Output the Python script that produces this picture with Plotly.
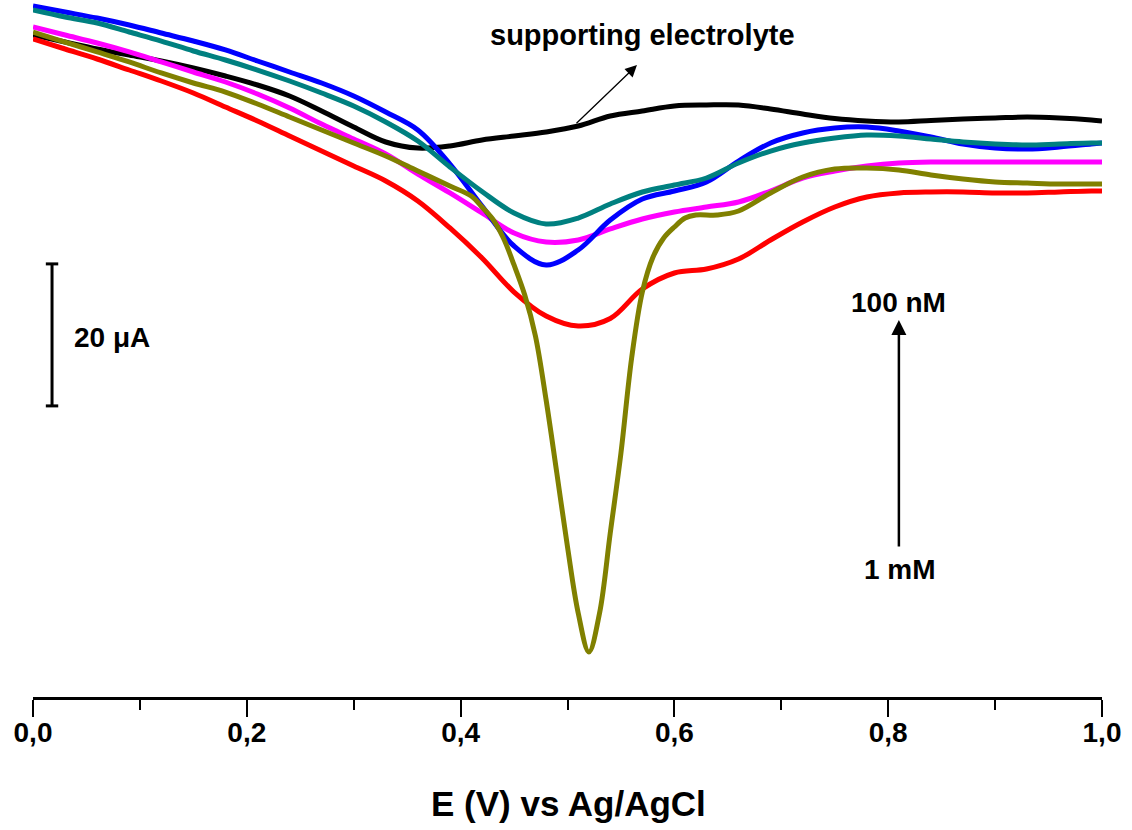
import plotly.graph_objects as go

# Differential pulse voltammograms: potential E (V vs Ag/AgCl) and current (µA)
E_grid = [0, 0.03, 0.06, 0.09, 0.12, 0.15, 0.18, 0.21, 0.24, 0.27, 0.30, 0.33, 0.36, 0.39,
          0.42, 0.45, 0.48, 0.51, 0.54, 0.57, 0.60, 0.63, 0.66, 0.69, 0.72, 0.75, 0.78, 0.81,
          0.84, 0.87, 0.90, 0.93, 0.96, 0.99, 1.0]

I_support = [93.24, 92.25, 91.27, 90.42, 89.58, 88.59, 87.46, 86.20, 84.65, 82.54, 80.28, 78.17,
             77.32, 77.61, 78.45, 79.01, 79.58, 80.42, 81.83, 82.54, 83.24, 83.38, 83.38, 82.82,
             82.11, 81.48, 81.13, 80.99, 81.20, 81.41, 81.55, 81.69, 81.55, 81.27, 81.13]

I_blue = [97.32, 96.48, 95.63, 94.65, 93.52, 92.39, 91.13, 89.58, 88.03, 86.48, 84.65, 82.39,
          79.86, 75.07, 69.15, 63.52, 60.85, 62.96, 67.18, 70.14, 71.27, 72.54, 75.49, 78.03,
          79.44, 80.14, 80.28, 79.72, 78.87, 77.89, 77.32, 77.18, 77.46, 77.89, 78.03]

I_teal = [96.76, 95.77, 94.93, 93.66, 92.39, 90.99, 89.72, 88.31, 86.76, 85.07, 83.24, 80.99,
          78.31, 74.65, 71.20, 68.17, 66.62, 67.46, 69.44, 71.13, 72.11, 73.10, 75.21, 76.90,
          78.03, 78.73, 79.15, 79.01, 78.59, 78.17, 77.89, 77.75, 77.89, 78.03, 78.03]

I_magenta = [94.37, 93.24, 92.11, 90.85, 89.44, 88.03, 86.62, 84.93, 82.96, 80.70, 78.59, 76.48,
             73.66, 70.99, 68.17, 65.35, 64.08, 64.37, 65.92, 67.32, 68.31, 69.01, 69.72, 71.27,
             73.10, 74.08, 74.79, 75.21, 75.35, 75.35, 75.35, 75.35, 75.35, 75.35, 75.35]

I_red = [92.68, 91.27, 89.86, 88.31, 86.76, 85.07, 83.10, 81.13, 79.01, 76.90, 74.79, 72.68,
         69.86, 66.06, 61.83, 57.04, 53.66, 52.25, 53.31, 57.46, 59.72, 60.28, 61.69, 64.37,
         66.90, 69.01, 70.42, 70.99, 71.13, 71.13, 70.99, 70.99, 71.13, 71.27, 71.27]

# the olive trace has a sharp peak, so it is sampled more finely around 0.5 V
E_olive = [0, 0.03, 0.06, 0.09, 0.12, 0.15, 0.18, 0.21, 0.24, 0.27, 0.30, 0.33, 0.36, 0.39,
           0.41, 0.42, 0.43, 0.44, 0.45, 0.46, 0.47, 0.48, 0.49, 0.50, 0.51, 0.52, 0.53, 0.54,
           0.55, 0.56, 0.57, 0.58, 0.59, 0.60, 0.61, 0.62, 0.64, 0.66, 0.69, 0.72, 0.75, 0.78,
           0.81, 0.84, 0.87, 0.90, 0.93, 0.96, 0.99, 1.0]
I_olive = [93.66, 92.25, 90.85, 89.44, 87.89, 86.48, 85.21, 83.52, 81.69, 79.86, 78.03, 76.20,
           74.08, 71.97, 70.56, 69.01, 67.32, 64.65, 60.85, 56.62, 50.85, 41.83, 31.55, 21.13,
           11.83, 6.34, 11.83, 23.10, 34.37, 47.75, 57.04, 61.97, 64.65, 66.20, 67.46, 67.89,
           67.89, 68.45, 70.99, 73.24, 74.37, 74.51, 74.23, 73.52, 72.96, 72.54, 72.39, 72.25,
           72.25, 72.25]

series = [
    (E_grid, I_support, "#000000", "supporting electrolyte"),
    (E_grid, I_red, "#FF0000", "red"),
    (E_grid, I_magenta, "#FF00FF", "magenta"),
    (E_grid, I_blue, "#0000FF", "blue"),
    (E_grid, I_teal, "#008080", "teal"),
    (E_olive, I_olive, "#808000", "olive"),
]

tick_vals = [0.0, 0.2, 0.4, 0.6, 0.8, 1.0]
tick_text = ["0,0", "0,2", "0,4", "0,6", "0,8", "1,0"]

# 20 µA scale bar
bar_E = 0.0178
bar_low, bar_high = 41.0, 61.0

FONT = "Liberation Sans, Arial, sans-serif"

fig = go.Figure()
for xs, ys, col, name in series:
    fig.add_trace(go.Scatter(x=xs, y=ys, mode="lines", name=name,
                             line=dict(color=col, width=5, shape="spline", smoothing=1.0)))

fig.update_layout(
    width=1132, height=830, autosize=False,
    margin=dict(l=33, r=30, t=0, b=133),
    paper_bgcolor="white", plot_bgcolor="white",
    showlegend=False,
    font=dict(family=FONT, color="black"),
)
fig.update_xaxes(
    range=[0, 1.0], showgrid=False, zeroline=False,
    showline=True, linecolor="black", linewidth=2.5,
    ticks="outside", ticklen=17, tickwidth=2, tickcolor="black",
    tickvals=tick_vals, ticktext=tick_text, ticklabelstandoff=-8,
    tickfont=dict(size=28, family=FONT, weight="bold"),
    minor=dict(dtick=0.1, ticks="outside", ticklen=10, tickwidth=2, tickcolor="black"),
)
fig.update_yaxes(range=[0, 98.17], visible=False)

# scale bar
fig.add_shape(type="line", x0=bar_E, x1=bar_E, y0=bar_low, y1=bar_high,
              line=dict(color="black", width=3))
for yv in (bar_low, bar_high):
    fig.add_shape(type="line", x0=bar_E - 0.0058, x1=bar_E + 0.0058, y0=yv, y1=yv,
                  line=dict(color="black", width=3))
fig.add_annotation(x=0.0365, y=(bar_low + bar_high) / 2 - 0.3, text="20 μA", showarrow=False,
                   xanchor="left", yanchor="middle",
                   font=dict(size=28, family=FONT, weight="bold"))

# supporting electrolyte label and pointer
fig.add_annotation(x=0.5705, y=93.3, text="supporting electrolyte", showarrow=False,
                   xanchor="center", yanchor="middle",
                   font=dict(size=29, family=FONT, weight="bold"))
fig.add_annotation(x=0.565, y=89.0, ax=0.507, ay=80.6, axref="x", ayref="y",
                   text="", showarrow=True, arrowhead=2, arrowsize=1.8, arrowwidth=1.3,
                   arrowcolor="black")

# concentration direction arrow
fig.add_annotation(x=0.810, y=53.1, ax=0.810, ay=21.0, axref="x", ayref="y",
                   text="", showarrow=True, arrowhead=2, arrowsize=1.2, arrowwidth=2.5,
                   arrowcolor="black")
fig.add_annotation(x=0.810, y=55.6, text="100 nM", showarrow=False,
                   xanchor="center", yanchor="middle",
                   font=dict(size=28, family=FONT, weight="bold"))
fig.add_annotation(x=0.811, y=17.9, text="1 mM", showarrow=False,
                   xanchor="center", yanchor="middle",
                   font=dict(size=28, family=FONT, weight="bold"))

# axis title
fig.add_annotation(x=0.5005, y=-0.1535, xref="x", yref="paper",
                   text="E (V) vs Ag/AgCl", showarrow=False,
                   xanchor="center", yanchor="middle",
                   font=dict(size=35, family=FONT, weight="bold"))

fig.write_html("out.html", config=dict(displayModeBar=False))
